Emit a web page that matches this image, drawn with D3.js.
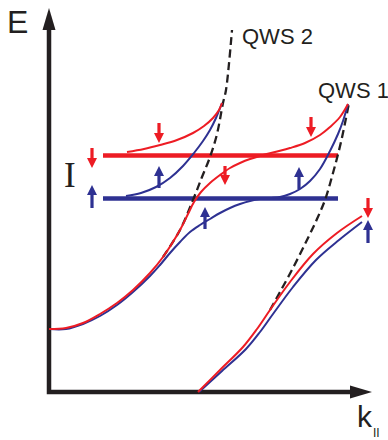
<!DOCTYPE html>
<html>
<head>
<meta charset="utf-8">
<script src="https://cdn.jsdelivr.net/npm/d3@7"></script>
<style>
  html, body { margin: 0; padding: 0; background: #fff; }
  svg { display: block; }
</style>
</head>
<body>
<div id="chart"></div>
<script>
// schematic band diagram, arbitrary units (k along x, E along y)

// unperturbed quantum well states (dashed)
const qws2K = [114, 131, 144, 153, 161, 168, 174, 177, 183];
const qws2E = [135, 162, 192, 215, 235, 258, 289, 302, 362];
const qws1K = [221, 231, 245, 258, 268, 276, 284, 292, 300];
const qws1E = [82, 100, 126, 152, 173, 192, 219, 250, 289];

// hybridised branch, spin down (red) and spin up (blue)
const redLowK = [0, 17, 34, 51, 68, 84, 101, 114, 131, 139, 145, 152, 161, 171, 181, 191, 201, 211, 226, 241, 256, 271, 281, 291, 299];
const redLowE = [63, 64, 69, 78, 89, 102, 119, 135, 162, 178, 190, 200, 209, 217, 224, 229, 233, 236, 240, 244, 249, 257, 265, 275, 288];
const blueLowK = [0, 17, 34, 51, 68, 84, 101, 111, 121, 131, 141, 151, 161, 171, 181, 191, 201, 211, 221, 231, 241, 251, 261, 271, 281, 289, 294, 299];
const blueLowE = [63, 63, 68, 76, 87, 100, 116, 127, 139, 150, 160, 167, 173, 179, 184, 188, 191, 193, 194, 195, 198, 203, 211, 223, 241, 258, 271, 288];

// upper QWS2 branches
const redUpK = [78, 95, 111, 128, 144, 155, 164, 170, 173];
const redUpE = [240, 243, 247, 252, 259, 266, 274, 282, 289];
const blueUpK = [77, 92, 107, 121, 134, 145, 154, 161, 167, 173];
const blueUpE = [196, 199, 205, 214, 226, 239, 251, 262, 274, 289];

// QWS1 lower branches
const redQ1K = [149, 171, 194, 208, 221, 241, 264, 288, 313];
const redQ1E = [0, 22, 45, 63, 82, 110, 138, 159, 176];
const blueQ1K = [150, 173, 197, 211, 224, 244, 267, 290, 313];
const blueQ1E = [0, 21, 43, 60, 78, 105, 132, 152, 170];

// exchange-split levels
const levelNames = ["down", "up"];
const levelE = [236.5, 193.5];
const levelK = [54, 289];

// spin arrows
const downK = [43, 110, 176, 262, 319];
const downTailE = [244, 269, 226, 275, 194];
const downTipE = [224, 249, 207, 255, 174];
const upK = [43, 110, 156, 250, 319];
const upTailE = [184, 204, 163, 203, 149];
const upTipE = [207, 226, 185, 225, 172];

const kMax = 323;
const eMax = 384;

const red = "#ed1c24";
const blue = "#2e3192";
const ink = "#231f20";

const width = 388;
const height = 440;

const svg = d3
  .select("#chart")
  .append("svg")
  .attr("width", width)
  .attr("height", height);

const x = d3.scaleLinear().domain([0, kMax]).range([49, 372]);
const y = d3.scaleLinear().domain([0, eMax]).range([392, 8]);

const zip = (ks, es) => ks.map((k, i) => [k, es[i]]);
const line = d3
  .line()
  .x((d) => x(d[0]))
  .y((d) => y(d[1]))
  .curve(d3.curveCatmullRom.alpha(0.5));

// axes
const axisW = 4.5;
svg
  .append("path")
  .attr("d", `M${x(0)},${y(eMax) + 20} L${x(0)},${y(0)} L${x(kMax) - 20},${y(0)}`)
  .attr("fill", "none")
  .attr("stroke", ink)
  .attr("stroke-width", axisW)
  .attr("stroke-linejoin", "miter");
svg
  .append("path")
  .attr("d", `M${x(0)},${y(eMax)} L${x(0) - 6.5},${y(eMax) + 22} L${x(0) + 6.5},${y(eMax) + 22} Z`)
  .attr("fill", ink);
svg
  .append("path")
  .attr("d", `M${x(kMax)},${y(0)} L${x(kMax) - 22},${y(0) - 6.5} L${x(kMax) - 22},${y(0) + 6.5} Z`)
  .attr("fill", ink);

// levels
svg
  .selectAll("line.level")
  .data(levelNames)
  .join("line")
  .attr("class", "level")
  .attr("x1", x(levelK[0]))
  .attr("x2", x(levelK[1]))
  .attr("y1", (d, i) => y(levelE[i]))
  .attr("y2", (d, i) => y(levelE[i]))
  .attr("stroke", (d) => (d === "down" ? red : blue))
  .attr("stroke-width", 4.5);

// dashed unperturbed states
[zip(qws2K, qws2E), zip(qws1K, qws1E)].forEach((pts) => {
  svg
    .append("path")
    .attr("d", line(pts))
    .attr("fill", "none")
    .attr("stroke", ink)
    .attr("stroke-width", 2.3)
    .attr("stroke-dasharray", "8,4.5");
});

// bands (blue under red)
const bands = [
  { pts: zip(blueLowK, blueLowE), c: blue },
  { pts: zip(blueUpK, blueUpE), c: blue },
  { pts: zip(blueQ1K, blueQ1E), c: blue },
  { pts: zip(redLowK, redLowE), c: red },
  { pts: zip(redUpK, redUpE), c: red },
  { pts: zip(redQ1K, redQ1E), c: red },
];
svg
  .selectAll("path.band")
  .data(bands)
  .join("path")
  .attr("class", "band")
  .attr("d", (d) => line(d.pts))
  .attr("fill", "none")
  .attr("stroke", (d) => d.c)
  .attr("stroke-width", 2);

// spin arrows
function arrowPath(k, tailE, tipE) {
  const px = x(k);
  const ty = y(tailE);
  const hy = y(tipE);
  const dir = Math.sign(hy - ty);
  const hb = hy - dir * 10;
  return `M${px - 1.6},${ty} L${px - 1.6},${hb} L${px - 5},${hb} L${px},${hy} L${px + 5},${hb} L${px + 1.6},${hb} L${px + 1.6},${ty} Z`;
}
svg
  .selectAll("path.down")
  .data(downK)
  .join("path")
  .attr("class", "down")
  .attr("d", (k, i) => arrowPath(k, downTailE[i], downTipE[i]))
  .attr("fill", red);
svg
  .selectAll("path.up")
  .data(upK)
  .join("path")
  .attr("class", "up")
  .attr("d", (k, i) => arrowPath(k, upTailE[i], upTipE[i]))
  .attr("fill", blue);

// labels
const sans = "'Liberation Sans', Arial, Helvetica, sans-serif";
svg
  .append("text")
  .attr("x", 7)
  .attr("y", 33)
  .attr("font-family", sans)
  .attr("font-size", 32)
  .attr("fill", ink)
  .text("E");
const kLabel = svg
  .append("text")
  .attr("x", 357)
  .attr("y", 427)
  .attr("font-family", sans)
  .attr("font-size", 30)
  .attr("fill", ink);
kLabel.append("tspan").text("k");
kLabel
  .append("tspan")
  .attr("font-size", 12)
  .attr("dx", 1)
  .attr("dy", 10)
  .text("II");
svg
  .append("text")
  .attr("x", 242)
  .attr("y", 44)
  .attr("font-family", sans)
  .attr("font-size", 22)
  .attr("fill", ink)
  .text("QWS 2");
svg
  .append("text")
  .attr("x", 318)
  .attr("y", 98)
  .attr("font-family", sans)
  .attr("font-size", 22)
  .attr("fill", ink)
  .text("QWS 1");
svg
  .append("text")
  .attr("x", 64)
  .attr("y", 187)
  .attr("font-family", "'Liberation Serif', 'Times New Roman', serif")
  .attr("font-size", 35)
  .attr("fill", ink)
  .text("I");
</script>
</body>
</html>
